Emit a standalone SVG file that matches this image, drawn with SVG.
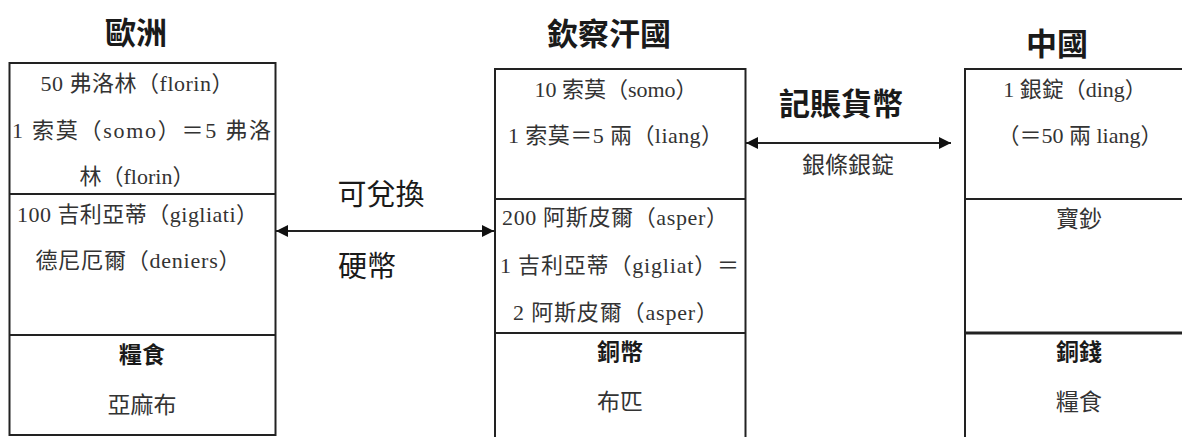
<svg xmlns="http://www.w3.org/2000/svg" width="1182" height="437" viewBox="0 0 1182 437">
<defs>
<style>
.box{fill:none;stroke:#222;stroke-width:2}
.ln{stroke:#222;stroke-width:2;fill:none}
.ttl{font-family:"Noto Sans CJK TC","Noto Sans",sans-serif;font-weight:bold;font-size:31px;fill:#1a1a1a;text-anchor:middle}
.lbl{font-family:"Noto Sans CJK TC","Noto Sans",sans-serif;font-size:29px;fill:#1a1a1a;text-anchor:middle}
.hd{font-family:"Noto Sans CJK TC","Noto Sans",sans-serif;font-weight:bold;font-size:23px;fill:#1a1a1a;text-anchor:middle}
.tx{font-family:"Liberation Serif","Noto Sans CJK TC",serif;font-size:22px;fill:#333;text-anchor:middle}
.sm{font-family:"Noto Sans CJK TC","Noto Sans",sans-serif;font-size:23px;fill:#333;text-anchor:middle}
</style>
<marker id="ah" viewBox="0 0 12 12" refX="12" refY="6" markerWidth="12" markerHeight="12" markerUnits="userSpaceOnUse" orient="auto-start-reverse">
<path d="M0,0 L12,6 L0,12 Z" fill="#111"/>
</marker>
</defs>
<rect width="1182" height="437" fill="#fff"/>

<g id="europe">
<text class="ttl" x="136" y="44">歐洲</text>
<rect class="box" x="9.5" y="63" width="266" height="372"/>
<line class="ln" x1="9.5" y1="194" x2="275.5" y2="194"/>
<line class="ln" x1="9.5" y1="335" x2="275.5" y2="335"/>
<text class="tx" x="137" y="91" textLength="193" lengthAdjust="spacing">50 弗洛林（florin）</text>
<text class="tx" x="12" y="138" style="text-anchor:start" textLength="259" lengthAdjust="spacing">1 索莫（somo）＝5 弗洛</text>
<text class="tx" x="137" y="184">林（florin）</text>
<text class="tx" x="17" y="222" style="text-anchor:start" textLength="241" lengthAdjust="spacing">100 吉利亞蒂（gigliati）</text>
<text class="tx" x="138" y="268" textLength="205" lengthAdjust="spacing">德尼厄爾（deniers）</text>
<text class="hd" x="142" y="363">糧食</text>
<text class="sm" x="142" y="413">亞麻布</text>
</g>

<g id="kipchak">
<text class="ttl" x="609" y="45">欽察汗國</text>
<polyline class="ln" points="495,437 495,69 745.5,69 745.5,437"/>
<line class="ln" x1="495" y1="199" x2="745.5" y2="199"/>
<line class="ln" x1="495" y1="333" x2="745.5" y2="333"/>
<text class="tx" x="616" y="97">10 索莫（somo）</text>
<text class="tx" x="508" y="143" style="text-anchor:start" textLength="215" lengthAdjust="spacing">1 索莫＝5 兩（liang）</text>
<text class="tx" x="502" y="225" style="text-anchor:start" textLength="226" lengthAdjust="spacing">200 阿斯皮爾（asper）</text>
<text class="tx" x="500" y="273" style="text-anchor:start" textLength="239" lengthAdjust="spacing">1 吉利亞蒂（gigliat）＝</text>
<text class="tx" x="513" y="320" style="text-anchor:start" textLength="205" lengthAdjust="spacing">2 阿斯皮爾（asper）</text>
<text class="hd" x="620" y="360">銅幣</text>
<text class="sm" x="620" y="410">布匹</text>
</g>

<g id="china">
<text class="ttl" x="1057" y="55">中國</text>
<polyline class="ln" points="965,437 965,69 1183,69"/>
<line class="ln" x1="965" y1="199" x2="1183" y2="199"/>
<line class="ln" x1="965" y1="333" x2="1183" y2="333" style="stroke-width:3"/>
<text class="tx" x="1075" y="97">1 銀錠（ding）</text>
<text class="tx" x="1080" y="143">（＝50 兩 liang）</text>
<text class="sm" x="1079" y="227">寶鈔</text>
<text class="hd" x="1079" y="360">銅錢</text>
<text class="sm" x="1079" y="410">糧食</text>
</g>

<g id="connectors">
<line class="ln" x1="276" y1="231" x2="494" y2="231" marker-start="url(#ah)" marker-end="url(#ah)"/>
<text class="lbl" x="381" y="205">可兌換</text>
<text class="lbl" x="367" y="277">硬幣</text>
<line class="ln" x1="746" y1="143" x2="951" y2="143" marker-start="url(#ah)" marker-end="url(#ah)"/>
<text class="ttl" x="841" y="115">記賬貨幣</text>
<text class="sm" x="848" y="173">銀條銀錠</text>
</g>
</svg>
